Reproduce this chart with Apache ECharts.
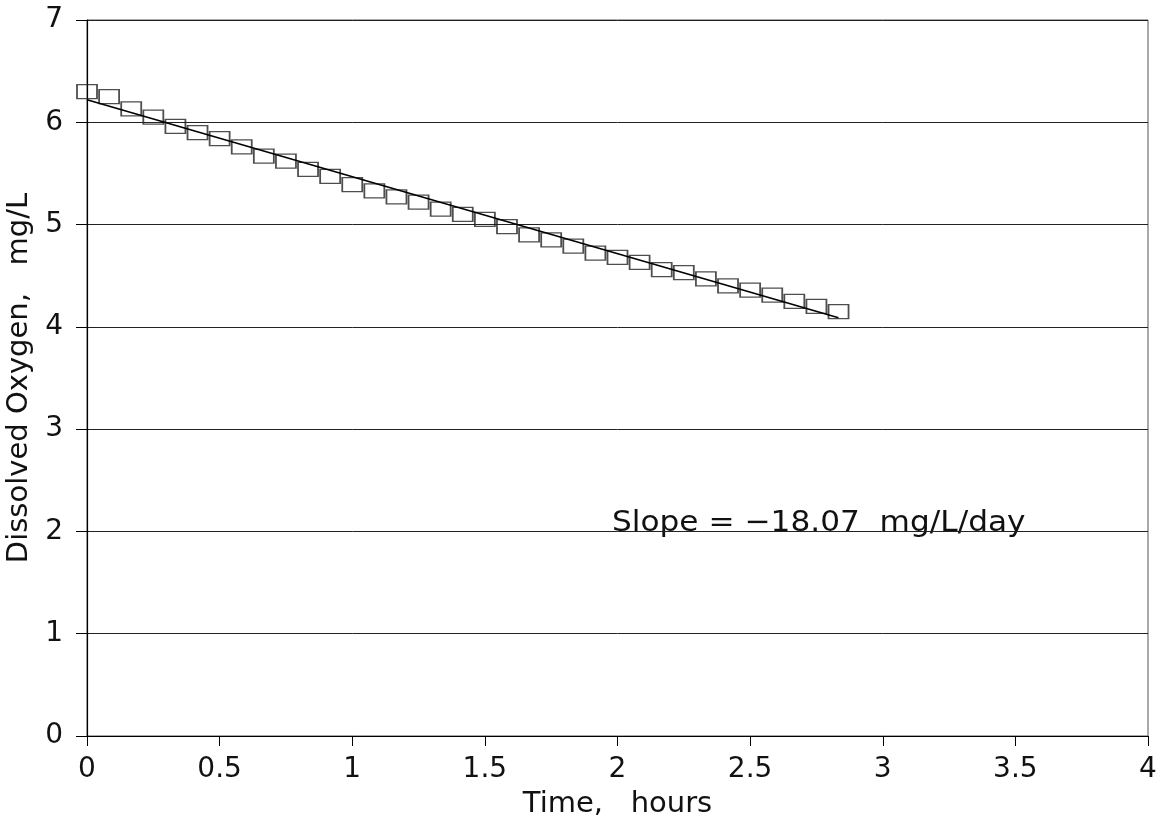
<!DOCTYPE html>
<html>
<head>
<meta charset="utf-8">
<script src="https://cdn.jsdelivr.net/npm/echarts@6/dist/echarts.min.js"></script>
<style>
  html, body { margin: 0; padding: 0; background: #fff; }
  #chart { width: 1167px; height: 831px; }
</style>
</head>
<body>
<div id="chart"></div>
<script>
// sampling times, minutes
var timeMin = [0, 5, 10, 15, 20, 25, 30, 35, 40, 45, 50, 55, 60, 65, 70, 75, 80, 85,
               90, 95, 100, 105, 110, 115, 120, 125, 130, 135, 140, 145, 150, 155, 160, 165, 170];
// dissolved oxygen, mg/L
var doValues = [6.30, 6.25, 6.13, 6.05, 5.96, 5.90, 5.84, 5.76, 5.67, 5.62,
                5.54, 5.47, 5.39, 5.33, 5.27, 5.22, 5.15, 5.10, 5.05, 4.98,
                4.90, 4.85, 4.79, 4.72, 4.68, 4.63, 4.56, 4.53, 4.47, 4.40,
                4.36, 4.31, 4.25, 4.20, 4.15];
// fitted line end points
var fitX = [0, 2.833];
var fitY = [6.22, 4.09];

var slopeText = 'Slope = \u221218.07  mg/L/day';

var FONT = 'DejaVu Sans';
var INK = '#111';

var chart = echarts.init(document.getElementById('chart'), null, { renderer: 'canvas' });

var points = timeMin.map(function (m, i) { return [m / 60, doValues[i]]; });
var fit = fitX.map(function (x, i) { return [x, fitY[i]]; });

var option = {
    backgroundColor: '#fff',
    animation: false,
    grid: {
        left: 87,
        right: 19,
        top: 20,
        bottom: 95,
        outerBoundsMode: 'none',
        show: true,
        borderColor: '#555',
        borderWidth: 1
    },
    xAxis: {
        type: 'value',
        min: 0,
        max: 4,
        interval: 0.5,
        name: 'Time,   hours',
        nameLocation: 'middle',
        nameGap: 54,
        nameTextStyle: {
            fontFamily: FONT,
            fontSize: 29,
            color: INK
        },
        axisLine: { lineStyle: { color: '#000', width: 1.2 } },
        axisTick: { show: true, length: 10, lineStyle: { color: '#000' } },
        axisLabel: {
            fontFamily: FONT,
            fontSize: 28,
            color: INK,
            margin: 20,
            formatter: function (v) { return String(v); }
        },
        splitLine: { show: false }
    },
    yAxis: {
        type: 'value',
        min: 0,
        max: 7,
        interval: 1,
        name: 'Dissolved Oxygen,   mg/L',
        nameLocation: 'middle',
        nameGap: 52,
        nameTextStyle: {
            fontFamily: FONT,
            fontSize: 29,
            color: INK
        },
        axisLine: { show: true, lineStyle: { color: '#000', width: 1.2 } },
        axisTick: { show: true, length: 11, lineStyle: { color: '#000' } },
        axisLabel: {
            fontFamily: FONT,
            fontSize: 28,
            color: INK,
            margin: 24
        },
        splitLine: { show: true, lineStyle: { color: '#222', width: 1 } }
    },
    series: [
        {
            type: 'scatter',
            data: points,
            symbol: 'rect',
            symbolSize: [20, 14],
            itemStyle: {
                color: 'rgba(0,0,0,0)',
                borderColor: '#222',
                borderWidth: 1.5
            },
            z: 2
        },
        {
            type: 'line',
            data: fit,
            showSymbol: false,
            lineStyle: { color: '#000', width: 1.6 },
            z: 3
        }
    ],
    graphic: [{
        type: 'text',
        x: 612,
        y: 538,
        scaleX: 1.075,
        style: {
            text: slopeText,
            font: '29px "' + FONT + '"',
            fill: INK,
            textVerticalAlign: 'bottom'
        }
    }]
};

chart.setOption(option);
</script>
</body>
</html>
